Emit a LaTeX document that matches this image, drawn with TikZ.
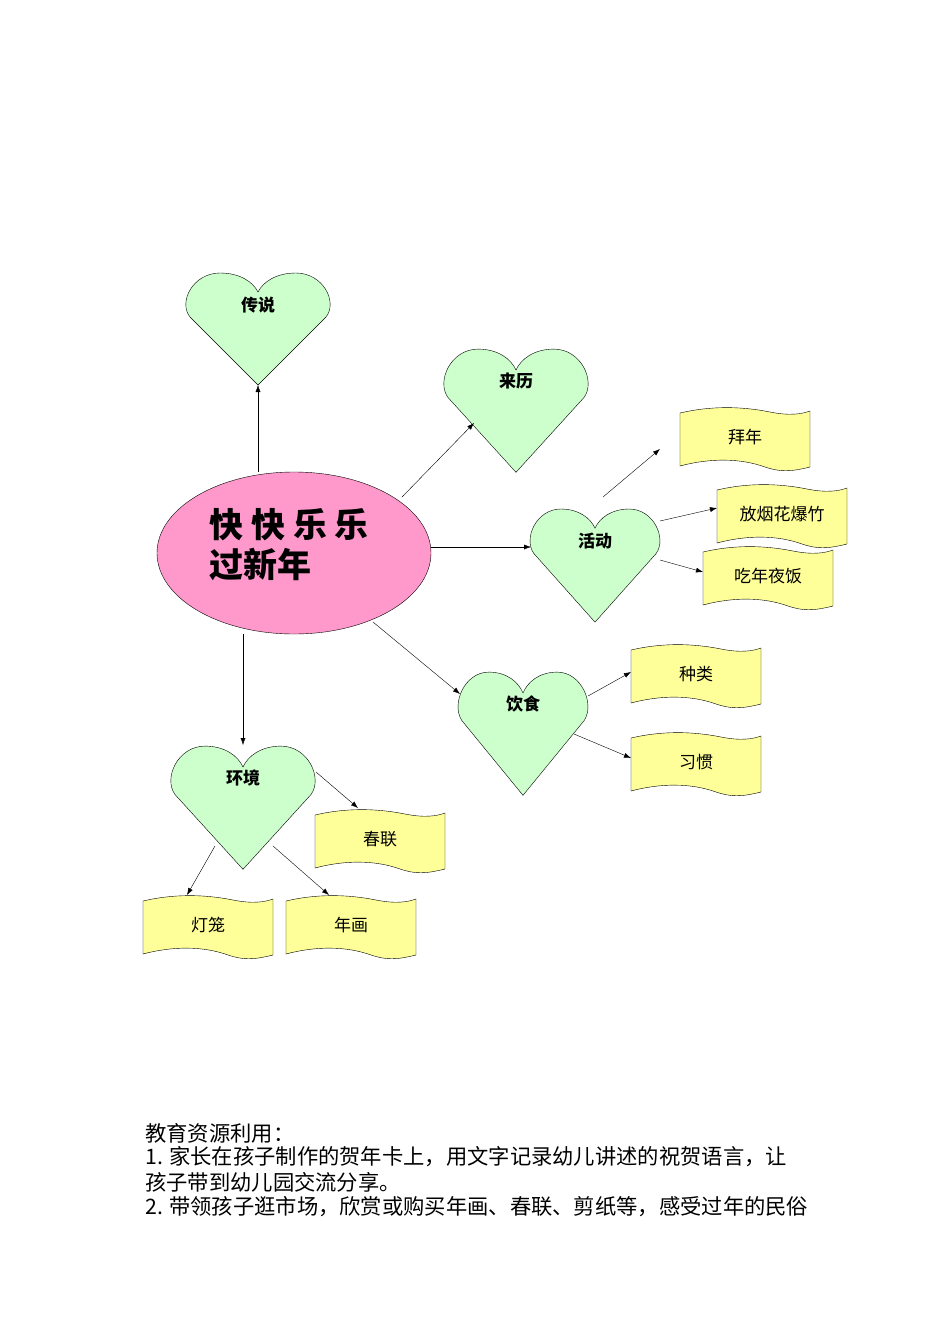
\documentclass[tikz,border=0pt]{standalone}
\usepackage{fontspec}
\setmainfont{Liberation Serif}
\newfontfamily\cjk{Noto Sans CJK SC}
\usetikzlibrary{arrows.meta,shapes.geometric}
\definecolor{hgreen}{HTML}{CCFFCC}
\definecolor{epink}{HTML}{FF99CC}
\definecolor{byellow}{HTML}{FFFF99}
\tikzset{
  x=1pt,y=-1pt,
  arr/.style={-{Latex[length=7pt,width=5pt]},thin},
  heartlbl/.style={font=\cjk\fontsize{17}{17}\selectfont\bfseries},
  boxlbl/.style={font=\cjk\fontsize{17}{17}\selectfont},
  pics/heart/.style args={#1/#2/#3}{code={
    \begin{scope}[xscale=#1,yscale=#2]
    \draw[fill=hgreen,thin] (0,113) -- (-68,45) .. controls (-80,30) and (-65,1) .. (-38,1)
      .. controls (-18,1) and (-5,10) .. (0,20) .. controls (5,10) and (18,1) .. (38,1)
      .. controls (65,1) and (80,30) .. (68,45) -- cycle;
    \end{scope}
    \node[heartlbl] at (0,33) {#3};
  }},
  pics/flag/.style={code={
    \draw[fill=byellow,thin] (0,3) .. controls (30,-4) and (60,-4) .. (90,2) .. controls (110,6) and (122,4) .. (130,1)
      -- (130,57) .. controls (110,62) and (100,62) .. (85,57) .. controls (60,48) and (30,48) .. (0,56) -- cycle;
    \node[boxlbl] at (65,27) {#1};
  }}
}
\begin{document}
\begin{tikzpicture}
\useasboundingbox (0,0) rectangle (950,1344);
% hearts
\pic at (258,272) {heart={1}/{1}/传说};
\pic at (516,348) {heart={1}/{1.1}/来历};
\pic at (595,508) {heart={0.9}/{1.01}/活动};
\pic at (523,671) {heart={0.9}/{1.1}/饮食};
\pic at (243,745) {heart={1}/{1.1}/环境};
% flags
\pic at (680,410) {flag=拜年};
\pic at (717,487) {flag=放烟花爆竹};
\pic at (703,549) {flag=吃年夜饭};
\pic at (631,647) {flag=种类};
\pic at (631,735) {flag=习惯};
\pic at (315,812) {flag=春联};
\pic at (143,898) {flag=灯笼};
\pic at (286,898) {flag=年画};
% center
\node[draw,thin,fill=epink,ellipse,minimum width=274pt,minimum height=162pt] (c) at (294,553) {};
\node[anchor=west,align=left,font=\cjk\fontsize{34}{40}\selectfont\bfseries] (ct) at (206,545) {快 快 乐 乐\\过新年};
% connector coordinates
\foreach \n/\x/\y in {a1/258/472,a2/258/385,b1/402/497,b2/474/423,c1/431/547,c2/531/547,
 d1/373/622,d2/460/694,e1/243/634,e2/243/745,f1/603/497,f2/660/449,g1/660/521,g2/717/508,
 h1/660/560,h2/703/572,i1/588/696,i2/631/672,j1/574/734,j2/631/758,k1/316/772,k2/358/808,
 l1/215/846,l2/187/895,m1/273/846,m2/329/895}
  \coordinate (\n) at (\x,\y);
\foreach \p in {a,b,c,d,e,f,g,h,i,j,k,l,m} \draw[arr] (\p1) -- (\p2);
% bottom text
\begin{scope}[every node/.style={anchor=west,font=\cjk\fontsize{21.3}{22}\selectfont,inner sep=0}]
\node (t1) at (145,1133) {教育资源利用：};
\node (t2) at (145,1157) {1. 家长在孩子制作的贺年卡上，用文字记录幼儿讲述的祝贺语言，让};
\node (t3) at (145,1182) {孩子带到幼儿园交流分享。};
\node (t4) at (145,1207) {2. 带领孩子逛市场，欣赏或购买年画、春联、剪纸等，感受过年的民俗};
\end{scope}
\end{tikzpicture}
\end{document}
